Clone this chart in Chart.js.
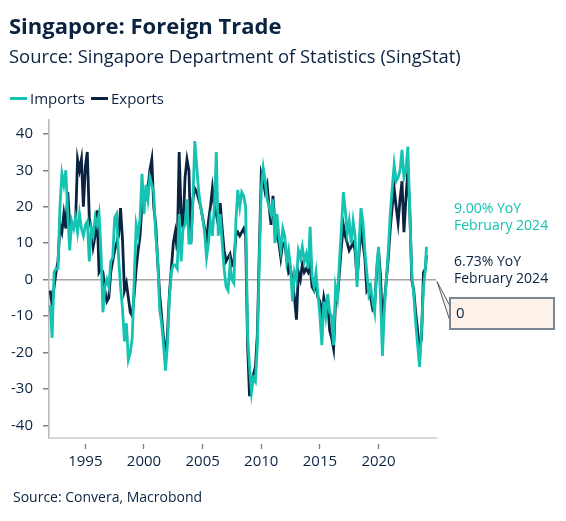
<!DOCTYPE html>
<html>
<head>
<meta charset="utf-8">
<script src="https://cdn.jsdelivr.net/npm/chart.js@4.4.1/dist/chart.umd.min.js"></script>
<style>
  body { margin: 0; background: #fff; }
  #wrap { position: relative; width: 566px; height: 521px; font-family: "Open Sans", sans-serif; color: #0b2341; }
  #myChart { position: absolute; left: 0; top: 0; }
  .t { position: absolute; white-space: nowrap; line-height: 1; }
  .sw { position: absolute; height: 3px; width: 17px; }
  #title { left: 9px; top: 14px; font-size: 22px; font-weight: 700; }
  #subtitle { left: 9px; top: 47px; font-size: 18.4px; }
  #source { left: 13px; top: 490px; font-size: 14px; }
  .leg { top: 91px; font-size: 15px; }
  .note { left: 454px; font-size: 14px; }
  #box { position: absolute; left: 449px; top: 297px; width: 106px; height: 33px; box-sizing: border-box;
         border: 2px solid #7a8591; background: #fdf2e9; font-size: 15px; line-height: 1; padding: 6px 0 0 5px; }
</style>
</head>
<body>
<div id="wrap">
  <canvas id="myChart" width="566" height="521"></canvas>
  <div class="t" id="title">Singapore: Foreign Trade</div>
  <div class="t" id="subtitle">Source: Singapore Department of Statistics (SingStat)</div>
  <span class="sw" style="left:10px; top:97px; background:#14c3b1"></span>
  <div class="t leg" style="left:30px">Imports</div>
  <span class="sw" style="left:91px; top:97px; background:#0b2341"></span>
  <div class="t leg" style="left:111px">Exports</div>
  <div class="t note" id="noteImp1" style="top:201px; color:#14c3b1"></div>
  <div class="t note" id="noteImp2" style="top:218px; color:#14c3b1">February 2024</div>
  <div class="t note" id="noteExp1" style="top:254px"></div>
  <div class="t note" id="noteExp2" style="top:271px">February 2024</div>
  <div id="box">0</div>
  <div class="t" id="source">Source: Convera, Macrobond</div>
</div>
<script>
// bi-monthly readings (Jan, Mar, May, Jul, Sep, Nov) 1992-2023, then Jan + Feb 2024
var dates = [];
for (var yr = 1992; yr <= 2023; yr++) {
  [1, 3, 5, 7, 9, 11].forEach(function (m) { dates.push(yr + '-' + (m < 10 ? '0' : '') + m); });
}
dates.push('2024-01', '2024-02');

// % YoY
var imports = [
  -7, -16, 2, 3, 3, 20,
  29, 26, 30, 18, 8, 16,
  14, 17, 13, 18, 14, 12,
  15, 16, 5, 14, 12, 17,
  15, 18, 8, -9, -2, 0,
  -2, 5, 6, 17, 18, 6,
  -2, -8, -17, -12, -22, -20,
  -16, 0, 15, 12, 17, 29,
  18, 26, 22, 28, 26, 24,
  12, 6, -8, -12, -18, -25,
  -18, -5, 2, 4, 4, 3,
  18, 5, 14, 15, 22, 10,
  10, 21, 38, 31, 24, 20,
  17, 13, 6, 10, 16, 12,
  20, 35, 12, 18, 10, 3,
  -2, -3, 4, 0, -1, 16,
  24.6, 20, 24, 23, 20, -15,
  -24, -31, -27, -28, -18, 5,
  25, 30.6, 27, 22, 20, 18,
  22, 10, 18, 12, 8, 14,
  12, 5, 8, 3, -6, 2,
  0, 8, 6, 9, 5, 7,
  3, 14.5, 1, -2, 2, -4,
  -10, -18, -6, -10, -4, -9,
  -10, -18, -2, -5, 5, 14,
  24, 19, 12.6, 16, 10, 16,
  12, -2, 9, 19.6, 16, 8,
  2, -4, -2, -6, -9, 3,
  9, -5, -21, -8, 0, 8,
  18, 25, 31.5, 27, 28, 30,
  35.6, 28, 30, 36.5, 18, 2,
  -4, -12, -18, -24, -14, -2,
  3, 9.00
];
var exports = [
  -3, -7, -2, 2, 5, 15,
  13, 18, 14, 24, 15, 15,
  15, 16, 33, 30, 33, 20,
  31, 35, 17, 14, 9, 12,
  19, 2, 3, 2, -3, -6,
  -5, 2, 5, 8, 10, 12,
  19.6, 11, -3, -1, -5, -9,
  -10, -4, 3, 8, 12, 21,
  22, 22, 25, 30, 33, 20,
  15, 5, -4, -10, -16, -22,
  -15, -4, 3, 10, 13, 8,
  35, 18, 14, 28, 33, 30,
  10, 22, 25, 24, 22, 20,
  17, 14, 10, 16, 20, 25,
  20, 18, 15, 21, 14, 8,
  5, 6, 7, 4, 5, 12,
  13, 12, 13, 14, 12, -18,
  -32, -28, -26, -24, -15, 8,
  29, 27, 24, 26, 20, 15,
  23, 15, 12, 10, 6, 10,
  10, 6, 2, 3, -1, -5,
  -11, 2, 0, 4, 2, 3,
  2, 4, -2, -3, -1, -5,
  -6, -10, -5, -8, -6, -14,
  -16, -19, -6, -5, 2, 9,
  15, 12, 10, 8, 9, 10,
  8, 0, 7, 14, 10, 6,
  -3, -2, -5, -8, -7, 2,
  8, 1, -12, -6, 0, 6,
  14, 20, 25, 20, 15.6, 22,
  27, 13, 22, 30, 19, 0,
  -3, -9, -14, -19, -16, 2,
  3, 6.73
];
var xTicks = [1995, 2000, 2005, 2010, 2015, 2020];
var yTicks = [-40, -30, -20, -10, 0, 10, 20, 30, 40];

var teal = '#14c3b1';
var navy = '#0b2341';

function toYear(d) {
  var p = d.split('-');
  return +p[0] + (+p[1] - 1) / 12;
}
function points(vals) {
  return vals.map(function (v, i) { return { x: toYear(dates[i]), y: v }; });
}

document.getElementById('noteImp1').textContent = imports[imports.length - 1].toFixed(2) + '% YoY';
document.getElementById('noteExp1').textContent = exports[exports.length - 1].toFixed(2) + '% YoY';

// little wedge joining the callout box to the end of the zero line
var calloutTail = {
  id: 'calloutTail',
  afterDraw: function (chart) {
    var c = chart.ctx;
    var x0 = chart.chartArea.right + 1;
    var y0 = chart.scales.y.getPixelForValue(0) + 2;
    c.save();
    c.beginPath();
    c.moveTo(450, 306);
    c.lineTo(x0, y0);
    c.lineTo(450, 321);
    c.closePath();
    c.fillStyle = '#fdf2e9';
    c.fill();
    c.strokeStyle = '#4d5966';
    c.lineWidth = 1;
    c.stroke();
    c.restore();
  }
};

var ctx = document.getElementById('myChart');
var myChart = new Chart(ctx, {
  type: 'line',
  data: {
    datasets: [
      { label: 'Imports', data: points(imports), borderColor: teal, borderWidth: 2.8, pointRadius: 0, fill: false },
      { label: 'Exports', data: points(exports), borderColor: navy, borderWidth: 2.8, pointRadius: 0, fill: false }
    ]
  },
  options: {
    responsive: false,
    animation: false,
    layout: { padding: { top: 120, right: 130, left: 0, bottom: 0 } },
    plugins: { legend: { display: false }, tooltip: { enabled: false } },
    scales: {
      x: {
        type: 'linear',
        min: 1991.9,
        max: 2024.9,
        afterBuildTicks: function (s) { s.ticks = xTicks.map(function (v) { return { value: v }; }); },
        afterFit: function (s) { s.height = 83; },
        border: { display: true, color: '#d9d9d9', width: 2 },
        grid: { drawOnChartArea: false, tickLength: 11, tickColor: '#7f7f7f', tickWidth: 1.3, tickBorderDash: [0, 5, 6, 50] },
        ticks: { color: navy, font: { family: 'Open Sans', size: 15 }, padding: 4, maxRotation: 0,
                 callback: function (v) { return String(v); } }
      },
      y: {
        min: -43.5,
        max: 43.8,
        afterBuildTicks: function (s) { s.ticks = yTicks.map(function (v) { return { value: v }; }); },
        afterFit: function (s) { s.width = 49; },
        border: { display: true, color: '#b8b8b8', width: 1.5 },
        grid: {
          drawOnChartArea: true,
          color: function (c) { return c.tick && c.tick.value === 0 ? '#a6a6a6' : 'rgba(0,0,0,0)'; },
          lineWidth: 1.5,
          tickLength: 6,
          tickColor: '#7f7f7f'
        },
        ticks: { color: navy, font: { family: 'Open Sans', size: 15 }, padding: 10 }
      }
    }
  },
  plugins: [calloutTail]
});
</script>
</body>
</html>
